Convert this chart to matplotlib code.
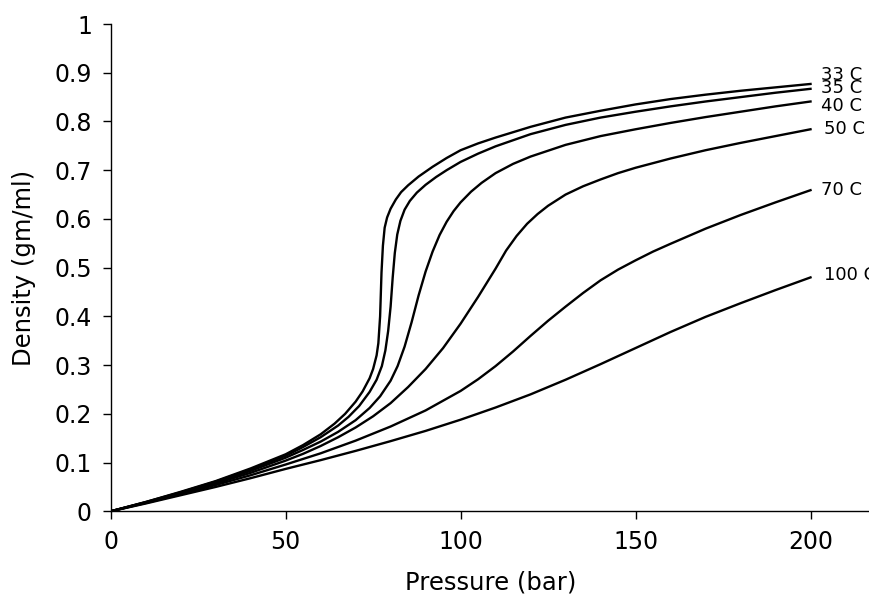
# -*- coding: utf-8 -*-
"""
CO2 density vs pressure isotherms
"""

import matplotlib
matplotlib.use('Agg')
import matplotlib.pyplot as plt

plt.rcParams['font.family'] = ['DejaVu Sans']

# isotherm labels
labels = ['33 C', '35 C', '40 C', '50 C', '70 C', '100 C']

# pressure (bar) / density (gm/ml) for each isotherm
p_33 = [0, 10, 20, 30, 40, 50, 55, 60, 64, 67, 70, 72, 74, 75, 76, 76.5, 77,
        77.4, 77.8, 78.3, 79, 80, 81.5, 83, 85, 88, 92, 96, 100, 105, 110,
        120, 130, 140, 150, 160, 170, 180, 190, 200]
d_33 = [0, 0.019, 0.040, 0.062, 0.088, 0.117, 0.136, 0.158, 0.180, 0.200,
        0.225, 0.246, 0.273, 0.292, 0.320, 0.345, 0.400, 0.490, 0.545, 0.582,
        0.603, 0.621, 0.640, 0.655, 0.669, 0.687, 0.707, 0.725, 0.741, 0.755,
        0.767, 0.789, 0.808, 0.822, 0.835, 0.846, 0.855, 0.863, 0.870, 0.877]

p_35 = [0, 10, 20, 30, 40, 50, 55, 60, 65, 68, 71, 74, 76, 77.5, 78.5, 79.3,
        80, 80.6, 81.2, 81.9, 82.8, 84, 85.5, 87.5, 90, 93, 96, 100, 105, 110,
        120, 130, 140, 150, 160, 170, 180, 190, 200]
d_35 = [0, 0.019, 0.039, 0.061, 0.086, 0.114, 0.132, 0.152, 0.176, 0.194,
        0.216, 0.245, 0.270, 0.298, 0.330, 0.370, 0.420, 0.480, 0.530, 0.568,
        0.596, 0.619, 0.637, 0.654, 0.670, 0.686, 0.700, 0.717, 0.734, 0.749,
        0.774, 0.793, 0.808, 0.820, 0.831, 0.841, 0.850, 0.859, 0.867]

p_40 = [0, 10, 20, 30, 40, 50, 55, 60, 65, 70, 74, 77, 80, 82, 84, 86, 88, 90,
        92, 94, 96, 98, 100, 103, 106, 110, 115, 120, 130, 140, 150, 160, 170,
        180, 190, 200]
d_40 = [0, 0.018, 0.038, 0.059, 0.083, 0.110, 0.126, 0.143, 0.163, 0.187,
        0.212, 0.236, 0.268, 0.298, 0.338, 0.388, 0.443, 0.492, 0.533, 0.567,
        0.594, 0.616, 0.634, 0.656, 0.674, 0.694, 0.713, 0.728, 0.752, 0.770,
        0.784, 0.797, 0.809, 0.820, 0.831, 0.841]

p_50 = [0, 10, 20, 30, 40, 50, 55, 60, 65, 70, 75, 80, 85, 90, 95, 100, 105,
        110, 113, 116, 119, 122, 125, 130, 135, 140, 145, 150, 160, 170, 180,
        190, 200]
d_50 = [0, 0.018, 0.037, 0.057, 0.079, 0.104, 0.118, 0.134, 0.152, 0.172,
        0.195, 0.222, 0.255, 0.292, 0.335, 0.385, 0.440, 0.498, 0.535, 0.565,
        0.590, 0.610, 0.627, 0.650, 0.667, 0.681, 0.694, 0.705, 0.724, 0.741,
        0.756, 0.770, 0.784]

p_70 = [0, 10, 20, 30, 40, 50, 60, 70, 80, 90, 100, 105, 110, 115, 120, 125,
        130, 135, 140, 145, 150, 155, 160, 170, 180, 190, 200]
d_70 = [0, 0.017, 0.035, 0.054, 0.074, 0.096, 0.119, 0.145, 0.174, 0.207,
        0.247, 0.271, 0.298, 0.328, 0.360, 0.391, 0.420, 0.448, 0.474, 0.496,
        0.515, 0.533, 0.549, 0.580, 0.608, 0.634, 0.659]

p_100 = [0, 10, 20, 30, 40, 50, 60, 70, 80, 90, 100, 110, 120, 130, 140, 150,
         160, 170, 180, 190, 200]
d_100 = [0, 0.016, 0.033, 0.050, 0.068, 0.087, 0.105, 0.124, 0.144, 0.165,
         0.188, 0.213, 0.240, 0.270, 0.302, 0.335, 0.368, 0.399, 0.427, 0.454,
         0.480]

# where each isotherm label sits (pressure, density)
label_p = [203.1, 203.1, 203.1, 203.8, 203.0, 203.8]
label_d = [0.895, 0.869, 0.832, 0.785, 0.660, 0.485]

x_ticks = [0, 50, 100, 150, 200]
y_ticks = [0, 0.1, 0.2, 0.3, 0.4, 0.5, 0.6, 0.7, 0.8, 0.9, 1]
y_tick_labels = ['0', '0.1', '0.2', '0.3', '0.4', '0.5', '0.6', '0.7', '0.8',
                 '0.9', '1']


def main():
    fig = plt.figure(figsize=(8.7, 5.99), dpi=100)
    ax = fig.add_axes([0.1272, 0.1464, 0.8728, 0.8135])

    series = [(p_33, d_33), (p_35, d_35), (p_40, d_40),
              (p_50, d_50), (p_70, d_70), (p_100, d_100)]
    for (p, d) in series:
        ax.plot(p, d, color='black', linewidth=1.7, solid_joinstyle='round')

    for lab, lp, ld in zip(labels, label_p, label_d):
        ax.text(lp, ld, lab, fontsize=13, ha='left', va='center',
                clip_on=False)

    ax.set_xlim(0, 217)
    ax.set_ylim(0, 1)
    ax.set_xticks(x_ticks)
    ax.set_yticks(y_ticks)
    ax.set_yticklabels(y_tick_labels)
    ax.tick_params(direction='out', length=6, width=1, pad=7.5,
                   labelsize=17)
    for side in ['top', 'right']:
        ax.spines[side].set_visible(False)
    for side in ['left', 'bottom']:
        ax.spines[side].set_linewidth(1)

    ax.set_xlabel('Pressure (bar)', fontsize=17.5, labelpad=12)
    ax.set_ylabel('Density (gm/ml)', fontsize=17.5, labelpad=13)

    fig.savefig('out.png', dpi=100, facecolor='white')
    plt.close(fig)


if __name__ == '__main__':
    main()
